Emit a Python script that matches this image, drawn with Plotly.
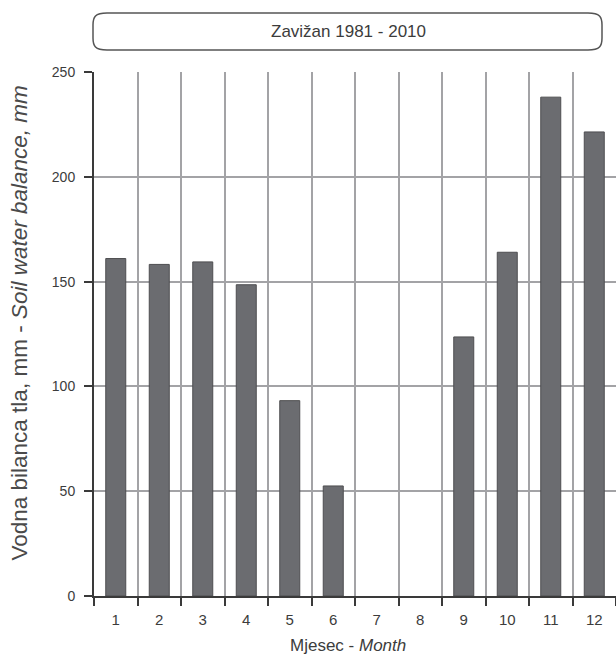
import plotly.graph_objects as go

# ---- data ----
months = ["1", "2", "3", "4", "5", "6", "7", "8", "9", "10", "11", "12"]
balance_mm = [161.0, 158.2, 159.4, 148.5, 93.2, 52.5, 0, 0, 123.6, 164.0, 238.0, 221.4]
title_text = "Zavižan 1981 - 2010"
y_title = "Vodna bilanca tla, mm - <i>Soil water balance, mm</i>"
x_title = "Mjesec - <i>Month</i>"
y_ticks = [0, 50, 100, 150, 200, 250]

# ---- layout geometry (pixels) ----
W, H = 616, 658
L, R, T, B = 94, 0, 72, 62
PW, PH = W - L - R, H - T - B

def px(x):
    return (x - L) / PW

def py(y):
    return (H - B - y) / PH

FONT = "Liberation Sans, Arial, sans-serif"
TXT = "#3c3c3c"

fig = go.Figure()
fig.add_trace(go.Bar(
    x=months, y=balance_mm, width=0.46,
    marker=dict(color="#6b6c70",
                line=dict(color="#4e4e50",
                          width=[1 if v > 0 else 0 for v in balance_mm])),
))

# rounded title box
x0, x1, yt, yb = 93, 602, 13, 50
rx, ry = 14, 12
path = (
    f"M {px(x0+rx)},{py(yt)} L {px(x1-rx)},{py(yt)} "
    f"C {px(x1-2)},{py(yt)} {px(x1)},{py(yt+4)} {px(x1)},{py(yt+ry)} "
    f"L {px(x1)},{py(yb-ry)} "
    f"C {px(x1)},{py(yb-4)} {px(x1-2)},{py(yb)} {px(x1-rx)},{py(yb)} "
    f"L {px(x0+rx)},{py(yb)} "
    f"C {px(x0+2)},{py(yb)} {px(x0)},{py(yb-4)} {px(x0)},{py(yb-ry)} "
    f"L {px(x0)},{py(yt+ry)} "
    f"C {px(x0)},{py(yt+4)} {px(x0+2)},{py(yt)} {px(x0+rx)},{py(yt)} Z"
)
fig.add_shape(type="path", xref="paper", yref="paper", path=path,
              line=dict(color="#555555", width=1.5), fillcolor="white")

fig.add_annotation(text=title_text, xref="paper", yref="paper",
                   x=px(348), y=py(31), showarrow=False,
                   xanchor="center", yanchor="middle",
                   font=dict(family=FONT, size=17, color=TXT))
fig.add_annotation(text=y_title, xref="paper", yref="paper",
                   x=px(18.5), y=py(323), showarrow=False, textangle=-90,
                   xanchor="center", yanchor="middle",
                   font=dict(family=FONT, size=22.5, color="#4a4a4a"))
fig.add_annotation(text=x_title, xref="paper", yref="paper",
                   x=px(348), y=py(645), showarrow=False,
                   xanchor="center", yanchor="middle",
                   font=dict(family=FONT, size=17, color=TXT))

fig.update_layout(
    width=W, height=H,
    margin=dict(l=L, r=R, t=T, b=B),
    paper_bgcolor="white", plot_bgcolor="white",
    showlegend=False,
    font=dict(family=FONT, size=15, color=TXT),
)
fig.update_xaxes(
    type="category", categoryarray=months, tickson="boundaries",
    showgrid=True, gridcolor="#a3a3a6", gridwidth=1.5,
    showline=True, linecolor="#3a3a3a", linewidth=2,
    ticks="outside", ticklen=8, tickwidth=2, tickcolor="#3a3a3a",
    ticklabelstandoff=9,
    tickfont=dict(family=FONT, size=15, color=TXT),
)
fig.update_yaxes(
    range=[0, 250], tickvals=y_ticks,
    showgrid=True, gridcolor="#a3a3a6", gridwidth=1.5, zeroline=False,
    showline=True, linecolor="#3a3a3a", linewidth=2,
    ticks="outside", ticklen=8, tickwidth=2, tickcolor="#3a3a3a",
    ticklabelstandoff=6,
    tickfont=dict(family=FONT, size=14, color=TXT),
)

fig.write_html("out.html", config={"displayModeBar": False},
               post_script="document.body.style.margin='0';")
